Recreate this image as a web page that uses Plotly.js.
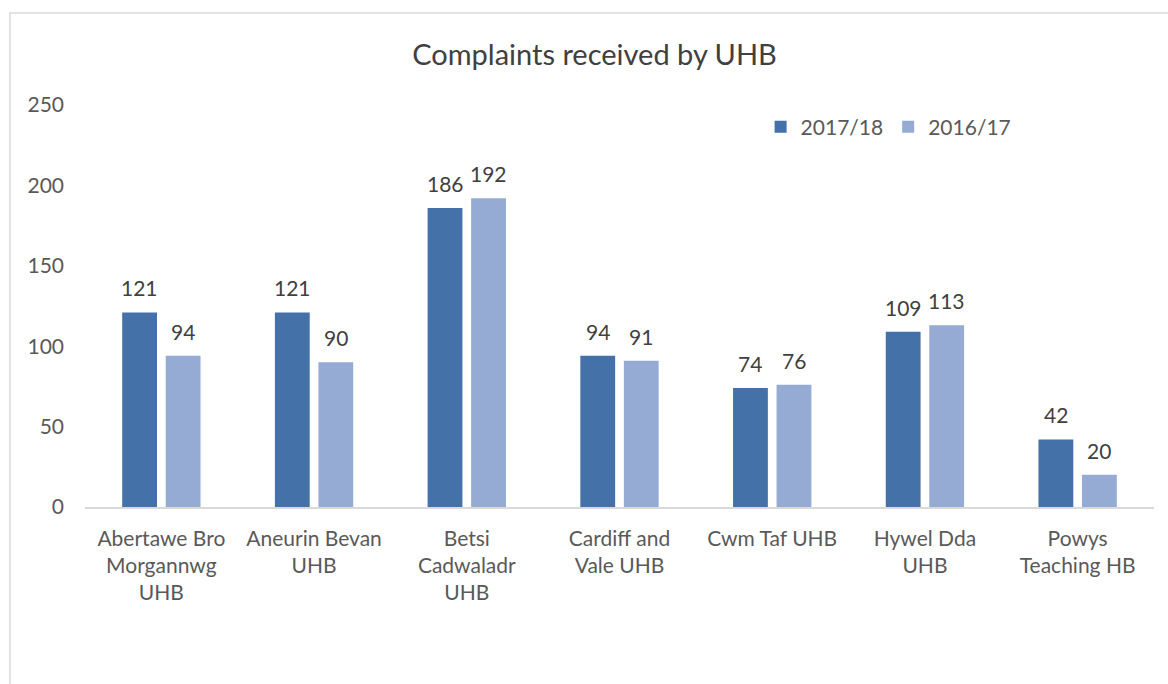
<!DOCTYPE html>
<html>
<head>
<meta charset="utf-8">
<script src="https://cdn.plot.ly/plotly-3.0.1.min.js"></script>
<style>html,body{margin:0;padding:0;background:#fff;}#chart{width:1168px;height:684px;}</style>
</head>
<body>
<div id="chart"></div>
<script>
const categories = ["Abertawe Bro<br>Morgannwg<br>UHB", "Aneurin Bevan<br>UHB", "Betsi<br>Cadwaladr<br>UHB", "Cardiff and<br>Vale UHB", "Cwm Taf UHB", "Hywel Dda<br>UHB", "Powys<br>Teaching HB"];
const series2017 = [121, 121, 186, 94, 74, 109, 42];
const series2016 = [94, 90, 192, 91, 76, 113, 20];
const seriesNames = ["2017/18", "2016/17"];
const tickVals = [0, 50, 100, 150, 200, 250];

const FONT = "Lato, 'Open Sans', sans-serif";
const labelFont = {family: FONT, size: 21, color: "#404040"};

const traces = [
  {type: "bar", name: seriesNames[0], x: categories, y: series2017, marker: {color: "#4472a8"}, hoverinfo: "x+y"},
  {type: "bar", name: seriesNames[1], x: categories, y: series2016, marker: {color: "#95abd3"}, hoverinfo: "x+y"}
];

// data labels built from the series arrays
const annotations = [];
[series2017, series2016].forEach(function (vals, s) {
  vals.forEach(function (v, i) {
    annotations.push({x: categories[i], y: v, xref: "x", yref: "y", text: String(v), showarrow: false,
      xshift: s === 0 ? -21.75 : 21.75, yshift: 10, yanchor: "bottom", font: labelFont});
  });
});

const layout = {
  width: 1168, height: 684,
  margin: {l: 85, r: 14, t: 105, b: 177},
  paper_bgcolor: "#fff", plot_bgcolor: "#fff",
  font: {family: FONT, color: "#595959", size: 21},
  title: {text: "Complaints received by UHB", font: {family: FONT, size: 29, color: "#404040"},
          x: 0.509, xref: "container", xanchor: "center", y: 0.92, yref: "container", yanchor: "middle"},
  barmode: "group", bargap: 0.43, bargroupgap: 0.2,
  xaxis: {type: "category", showline: true, linecolor: "#d9d9d9", linewidth: 1.5, ticks: "",
          tickfont: {family: FONT, size: 21, color: "#595959"}, showgrid: false, zeroline: false,
          ticklabelstandoff: 12, fixedrange: true},
  yaxis: {range: [0, 250], tickvals: tickVals, showgrid: false, zeroline: false, showline: false,
          tickfont: {family: FONT, size: 21, color: "#595959"}, ticklabelstandoff: 20, fixedrange: true},
  legend: {orientation: "h", x: 0.632, xanchor: "left", y: 0.945, yanchor: "middle",
           font: {family: FONT, size: 21, color: "#595959"}, itemwidth: 30, traceorder: "normal"},
  annotations: annotations,
  shapes: [{type: "rect", xref: "paper", yref: "paper", x0: -0.0702, x1: 1.02, y0: -0.46, y1: 1.2289,
            line: {color: "#d9d9d9", width: 1.5}, fillcolor: "rgba(0,0,0,0)", layer: "below"}]
};

Plotly.newPlot("chart", traces, layout, {displayModeBar: false, staticPlot: true});
</script>
</body>
</html>
